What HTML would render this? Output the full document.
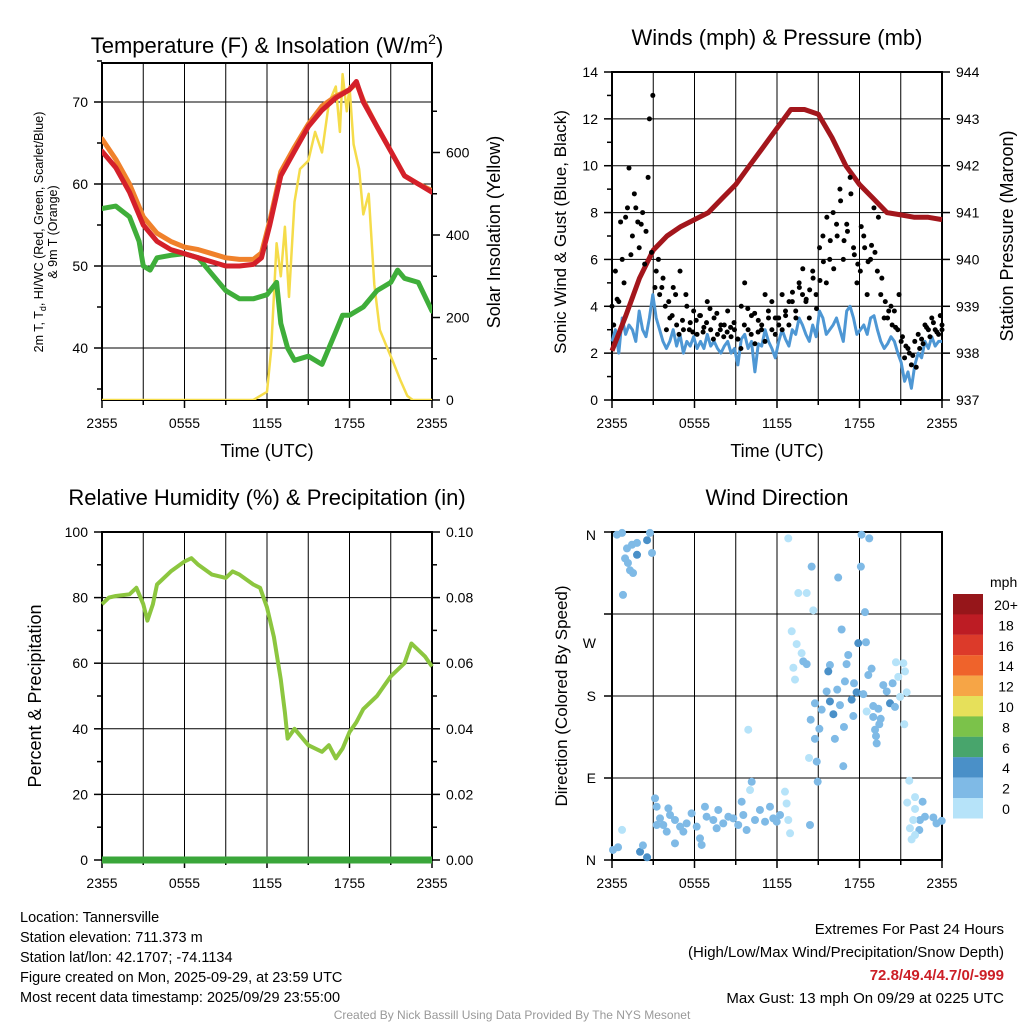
<!DOCTYPE html>
<html><head><meta charset="utf-8"><style>
html,body{margin:0;padding:0;background:#fff}
svg{display:block;font-family:"Liberation Sans",sans-serif}
</style></head><body>
<svg id="s" width="1024" height="1024" viewBox="0 0 1024 1024" xmlns="http://www.w3.org/2000/svg">
<rect width="1024" height="1024" fill="#fff"/>
<g id="g1"></g>
<g id="g2"></g>
<g id="g3"></g>
<g id="g4"></g>
<text x="267" y="53" font-size="22" text-anchor="middle">Temperature (F) &amp; Insolation (W/m<tspan font-size="14" dy="-9">2</tspan><tspan dy="9">)</tspan></text>
<text x="777" y="45" font-size="22" text-anchor="middle">Winds (mph) &amp; Pressure (mb)</text>
<text x="267" y="505" font-size="22" text-anchor="middle">Relative Humidity (%) &amp; Precipitation (in)</text>
<text x="777" y="505" font-size="22" text-anchor="middle">Wind Direction</text>
<text x="267" y="457" font-size="18" text-anchor="middle">Time (UTC)</text>
<text x="777" y="457" font-size="18" text-anchor="middle">Time (UTC)</text>
<g font-size="12.5" text-anchor="middle" transform="translate(43,232) rotate(-90)">
<text x="0" y="0">2m T, T<tspan font-size="9" dy="3">d</tspan><tspan dy="-3">, HI/WC (Red, Green, Scarlet/Blue)</tspan></text>
<text x="0" y="14">&amp; 9m T (Orange)</text></g>
<text transform="translate(500,232) rotate(-90)" font-size="18" text-anchor="middle">Solar Insolation (Yellow)</text>
<text transform="translate(566,232) rotate(-90)" font-size="17" text-anchor="middle">Sonic Wind &amp; Gust (Blue, Black)</text>
<text transform="translate(1013,236) rotate(-90)" font-size="18" text-anchor="middle">Station Pressure (Maroon)</text>
<text transform="translate(41,696) rotate(-90)" font-size="18" text-anchor="middle">Percent &amp; Precipitation</text>
<text transform="translate(567,696) rotate(-90)" font-size="17" text-anchor="middle">Direction (Colored By Speed)</text>
<g font-size="14.5">
<text x="20" y="922">Location: Tannersville</text>
<text x="20" y="942">Station elevation: 711.373 m</text>
<text x="20" y="962">Station lat/lon: 42.1707; -74.1134</text>
<text x="20" y="982">Figure created on Mon, 2025-09-29, at 23:59 UTC</text>
<text x="20" y="1002">Most recent data timestamp: 2025/09/29 23:55:00</text>
</g>
<g font-size="15" text-anchor="end">
<text x="1004" y="934">Extremes For Past 24 Hours</text>
<text x="1004" y="957">(High/Low/Max Wind/Precipitation/Snow Depth)</text>
<text x="1004" y="980" fill="#cc1f26" font-weight="bold">72.8/49.4/4.7/0/-999</text>
<text x="1004" y="1003">Max Gust: 13 mph On 09/29 at 0225 UTC</text>
</g>
<text x="512" y="1019" font-size="12" fill="#999" text-anchor="middle">Created By Nick Bassill Using Data Provided By The NYS Mesonet</text>
</svg>
<script>
// ---- Panel 1 data ----
const tempH=[0,1,2,3,4,5,6,7,8,9,10,11,11.6,12.2,12.6,13,14,15,16,17,18,18.5,19,20,21,22,23,24];
const tempRed=[64,62,59,55,53,52,51.5,51,50.5,50,50,50.2,51,55,58,61,64,67,69,70.5,71.5,72.5,70,67,64,61,60,59];
const temp9m=[65.5,63,60,56,54,53,52.3,52,51.5,51,50.8,50.8,51.6,55.5,58.5,61.5,64.5,67.3,69.5,70.7,71.5,72.3,70.2,67,64,61,60,59.2];
const dewH=[0,1,2,2.7,3,3.5,4,5,6,7,8,9,10,11,12,12.7,13,13.5,14,15,16,16.5,17,17.5,18,19,20,21,21.5,22,23,24];
const dewVal=[57,57.3,56,53,50,49.5,51,51.3,51.5,51,49,47,46,46,46.5,48,43,40,38.5,39,38,40,42,44,44,45,47,48,49.5,48.5,48,44.5];
const solH=[0,11,11.5,12,12.3,12.7,13,13.3,13.6,14,14.4,15,15.5,16,16.5,17,17.3,17.5,17.8,18,18.3,18.7,19,19.4,19.8,20.2,20.7,21.2,21.7,22.2,22.6,24];
const solVal=[0,0,10,20,120,380,300,420,250,480,560,580,650,600,720,760,650,790,700,760,620,560,450,500,280,170,130,90,48,10,0,0];
const tempTicks=[40,50,60,70];
const solTicks=[0,200,400,600];
const timeLabels=["2355","0555","1155","1755","2355"];
// ---- Panel 2 data ----
const presH=[0,1,2,3,4,5,6,7,8,9,10,11,12,13,14,15,16,17,18,19,20,21,22,23,24];
const presVal=[938.05,938.8,939.6,940.2,940.5,940.7,940.85,941.0,941.3,941.6,942.0,942.4,942.8,943.2,943.2,943.1,942.6,942.0,941.6,941.3,941.0,940.95,940.9,940.9,940.85];
const windVal=[2.5,3,2,3.5,2.8,3.2,3,2.5,3.8,3,2.7,3.5,4.5,3.5,3,2.5,
2.2,2.5,3,2.3,2.8,2,2.5,2.3,2.7,2.2,2.5,2.2,2.8,2.3,2.5,2.2,2,
2.3,2.5,2,2.2,1.5,2.6,2.8,2.2,2.5,1.2,2.4,2.3,3,2.5,2.2,1.8,
2.5,3,2.6,2.3,3,2.8,3.5,3.2,2.8,2.5,3.2,2.7,3.8,3.5,2.8,3,
3.2,3.5,3,2.5,3.8,4,3.5,2.8,3,3.2,2.8,3.5,3.6,3,2.5,2.2,
2.4,2.7,2.5,2,1.6,0.8,1.2,0.5,1.5,2,1.8,2.5,2.2,2.7,2.3,2.5,2.5];
const gustA=[4,5.5,4.2,6,7.8,9.9,7,8.2,6.5,8,7.2,12,13,5.5,4.5,5.2,
3,3.5,4.8,3.2,5.5,3,4,3.3,3.8,2.8,3.6,3.1,4.2,3,3.5,2.8,3.2,
3.2,3.8,2.7,3,2.6,4,5,3,3.6,2.4,3.4,3.2,4.5,3.5,3,2.8,
3.5,4.5,3.8,3.2,4.2,3.8,5,4.5,4.2,3.5,5.5,4.5,6.5,7,5,6,
8,7.5,9,6,7.5,9.5,6.5,5,5.5,7,4.5,6,8.2,5.5,4.5,3.5,
3.5,4,3.8,3,2.5,1.8,2.2,1.5,2.5,2.8,2.6,3.2,3,3.5,3,2.8,3];
const gustB=[3.2,4.3,7.6,5,8.2,6.2,8.8,7.6,7.5,5.8,9.5,6.3,4.8,6,4.8,4,
4.2,3.6,4.5,2.8,3.4,4.5,3,2.9,3.4,3.6,2.9,3.3,3.9,2.6,3.7,3,2.7,
2.9,3.1,3.3,2.6,2.2,3.2,3.9,2.8,3.7,2.9,3,2.5,3.8,4.2,3.5,3.2,
3,3.6,4.2,4.6,3.5,4.8,5.6,4.3,4.7,5.2,3.9,5.1,5.9,7.8,6.8,5.6,
7,8.5,6.8,7.2,8.8,6.2,5.8,7.4,6.5,5.9,6.6,6.3,7.8,5.2,4.2,3.8,
3.2,3.1,4.5,2.7,2.3,2.0,1.9,1.4,2.2,2.4,3.1,2.7,3.3,2.9,3.6,3.2];
const windTicks=[0,2,4,6,8,10,12,14];
const presTicks=[937,938,939,940,941,942,943,944];
// ---- Panel 3 data ----
const rhH=[0,0.5,1,2,2.5,3,3.3,3.7,4,5,6,6.5,7,8,9,9.5,10,11,11.5,12,12.5,13,13.3,13.5,14,15,16,16.5,17,17.5,18,18.5,19,20,21,22,22.5,23,23.5,24];
const rhVal=[78,80,80.5,81,83,78,73,78,84,88,91,92,90,87,86,88,87,84,83,77,68,55,45,37,40,35,33,35,31,34,39,42,46,50,56,60,66,64,62,59];
const rhTicks=[0,20,40,60,80,100];
const precTicks=["0.00","0.02","0.04","0.06","0.08","0.10"];
// ---- Panel 4 data ----
const dirH=[0.36,0.73,1.09,1.45,1.82,2.55,2.76,2.91,0.95,1.16,1.31,1.53,0.80,1.82,0.07,0.44,2.04,2.25,2.55,0.73,
3.13,3.25,3.49,3.73,4.10,4.22,4.58,4.95,5.43,5.79,6.16,6.40,6.76,6.88,7.37,7.73,8.09,8.46,8.82,9.18,9.43,9.55,10.04,10.16,10.40,10.76,11.13,11.49,11.73,12.22,12.58,12.70,12.82,12.95,3.25,3.98,4.58,5.19,6.52,7.61,9.79,11.98,14.4,
12.82,14.52,16.45,18.15,18.71,18.1,13.55,14.16,14.64,18.4,16.7,13.07,13.43,13.79,13.19,13.91,14.16,13.31,15.85,15.73,17.18,17.06,17.91,18.47,18.88,18.64,16.94,17.6,16.38,15.61,17.79,17.43,18.28,14.76,15.25,15.85,16.1,16.58,17.55,18.52,19.0,19.37,19.73,19.98,20.22,20.41,20.58,20.65,20.82,21.19,21.31,21.43,20.95,14.45,15.08,14.76,16.21,16.87,19.0,19.54,19.44,19.13,19.2,19.25,21.26,9.91,14.33,14.89,16.82,14.96,
21.62,22.04,21.47,22.59,22.04,22.76,23.37,23.98,23.6,22.4,21.91,21.67,22.35,22.04,21.79];
const dirDeg=[357,359,342,346,348,351,359,337,331,326,318,315,291,335,11,14,9,16,3,33,
67.7,58.5,45.7,38.4,56.7,49.4,43.9,36.6,40.2,51.2,36.6,23.8,58.5,47.5,43.9,54.9,40.2,47.5,45.7,38.4,64,49.4,76.8,85.9,43.9,54.9,42,58.5,45.7,49.4,75,62,43.9,29.3,38.4,31.1,18.3,31.1,16.5,34.8,32.9,42,38.4,
353,322,310,357,353,322,293,293,274,272,253,251,237,227,211,218,215,198,214,207,225,215,238,239,210,203,196,194,187,185,184,176,182,172,165,174,160,170,158,163,169,166,192,185,172,194,168,217,201,216,207,184,179,154,144,133,133,146,157,155,149,143,136,128,149,143,112,108,103,86,
87,69,63,64,56,47.5,46.7,43,40.2,43.9,43.9,34.8,32.9,27.4,22.6];
const dirSpd=[2.5,2.5,2.5,2.5,2.5,4.5,2.5,2.5,2.5,2.5,2.5,2.5,2.5,4.5,2.5,2.5,4.5,2.5,4.5,0.5,
2.5,2.5,2.5,2.5,2.5,2.5,2.5,2.5,2.5,2.5,2.5,2.5,2.5,2.5,2.5,2.5,2.5,2.5,2.5,2.5,2.5,2.5,0.5,2.5,2.5,2.5,2.5,2.5,2.5,2.5,0.5,0.5,0.5,0.5,2.5,2.5,2.5,2.5,2.5,2.5,2.5,2.5,2.5,
0.5,2.5,2.5,2.5,2.5,2.5,0.5,0.5,0.5,2.5,2.5,0.5,0.5,0.5,0.5,2.5,2.5,0.5,2.5,4.5,2.5,2.5,4.5,2.5,2.5,2.5,2.5,2.5,2.5,2.5,4.5,4.5,2.5,2.5,2.5,4.5,4.5,2.5,2.5,0.5,2.5,2.5,2.5,2.5,4.5,2.5,2.5,0.5,0.5,0.5,0.5,0.5,0.5,2.5,2.5,2.5,2.5,2.5,2.5,2.5,2.5,2.5,2.5,2.5,0.5,0.5,0.5,2.5,2.5,2.5,
0.5,0.5,0.5,2.5,0.5,2.5,2.5,2.5,2.5,2.5,0.5,0.5,2.5,0.5,0.5];
const dirLabels=["N","W","S","E","N"];
const cbLabels=["20+","18","16","14","12","10","8","6","4","2","0"];
const cbColors=["#96161a","#bd1c24","#dc3a2a","#ef632b","#f6a546","#e6e05a","#7bc24a","#48a56c","#4a90c8","#7fbae6","#b6e3f9"];

const NS="http://www.w3.org/2000/svg";
function mk(parent,tag,attrs){const e=document.createElementNS(NS,tag);for(const k in attrs)e.setAttribute(k,attrs[k]);parent.appendChild(e);return e;}
function panelFrame(g,x0,x1,y0,y1){
  for(let i=1;i<8;i++){const x=x0+(x1-x0)*i/8;const l=mk(g,'line',{x1:x,x2:x,y1:y0,y2:y1,stroke:'#000','stroke-width':1});
    }
  const r=mk(g,'rect',{x:x0,y:y0,width:x1-x0,height:y1-y0,fill:'none',stroke:'#000','stroke-width':2});
  
  for(let i=0;i<=8;i++){const x=x0+(x1-x0)*i/8;const len=i%2==0?8:5;
    const t=mk(g,'line',{x1:x,x2:x,y1:y1,y2:y1+len,stroke:'#000','stroke-width':1.5});}
  timeLabels.forEach((s,i)=>{const t=mk(g,'text',{x:x0+(x1-x0)*i/4,y:y1+28,'font-size':14,'text-anchor':'middle'});t.textContent=s;
    });
}
function hline(g,x0,x1,y,side){const l=mk(g,'line',{x1:x0,x2:x1,y1:y,y2:y,stroke:'#000','stroke-width':1});}
function ytick(g,x,y,len,label,anchor,lx){const t=mk(g,'line',{x1:x,x2:x+len,y1:y,y2:y,stroke:'#000','stroke-width':1.5});
  if(label!==null){const tx=mk(g,'text',{x:lx,y:y+5,'font-size':14,'text-anchor':anchor});tx.textContent=label;}}
function pathFrom(hs,vs,X,Y){return hs.map((h,i)=>(i?'L':'M')+X(h).toFixed(1)+','+Y(vs[i]).toFixed(1)).join('');}

// Panel 1
(function(){const g=document.getElementById('g1');const x0=102,x1=432,y0=63,y1=400;
  const X=h=>x0+h/24*(x1-x0);const Y=t=>348-(t-40)*8.2;const YS=s=>400-s*0.4125;
  const clip=mk(g,'clipPath',{id:'c1'});mk(clip,'rect',{x:x0,y:y0,width:x1-x0,height:y1-y0});
  tempTicks.forEach(t=>{hline(g,x0,x1,Y(t));ytick(g,x0-8,Y(t),8,String(t),'end',x0-14);ytick(g,x0-5,Y(t+5),5,null);});
  ytick(g,x0-5,Y(35),5,null);
  solTicks.forEach(s=>{ytick(g,x1,YS(s),8,String(s),'start',x1+14);ytick(g,x1,YS(s+100),5,null);});
  panelFrame(g,x0,x1,y0,y1);
  const cg=mk(g,'g',{'clip-path':'url(#c1)'});
  const series=[[solH,solVal,YS,'#f5dc4a',2.5,'solar-line'],[dewH,dewVal,Y,'#3fae3a',5,'dewpoint-line'],[tempH,temp9m,Y,'#f0812b',5,'temp-9m-line'],[tempH,tempRed,Y,'#d4202a',5,'temp-2m-line']];
  series.forEach(s=>{const p=mk(cg,'path',{d:pathFrom(s[0],s[1],X,s[2]),fill:'none',stroke:s[3],'stroke-width':s[4],'stroke-linejoin':'round','stroke-linecap':'round'});
    });
})();
// Panel 2
(function(){const g=document.getElementById('g2');const x0=612,x1=942,y0=72,y1=400;
  const X=h=>x0+h/24*(x1-x0);const Y=w=>y1-w/14*(y1-y0);const YP=p=>y1-(p-937)/7*(y1-y0);
  windTicks.forEach(w=>{hline(g,x0,x1,Y(w));ytick(g,x0-8,Y(w),8,String(w),'end',x0-14);if(w<14)ytick(g,x0-5,Y(w+1),5,null);});
  presTicks.forEach(p=>{ytick(g,x1,YP(p),8,String(p),'start',x1+14);});
  panelFrame(g,x0,x1,y0,y1);
  const n=windVal.length;const wh=windVal.map((v,i)=>i*24/(n-1));
  let p=mk(g,'path',{d:pathFrom(wh,windVal,X,Y),fill:'none',stroke:'#4e97d4','stroke-width':3,'stroke-linejoin':'round'});
  p=mk(g,'path',{d:pathFrom(presH,presVal,X,YP),fill:'none',stroke:'#a3161c','stroke-width':5,'stroke-linejoin':'round'});
  [[gustA,0],[gustB,0.125]].forEach(a=>{const m=a[0].length;a[0].forEach((v,i)=>{const h=Math.min(24,i*24/(m-1)+a[1]);
    const c=mk(g,'circle',{cx:X(h),cy:Y(v),r:2.5,fill:'#000'});});});
})();
// Panel 3
(function(){const g=document.getElementById('g3');const x0=102,x1=432,y0=532,y1=860;
  const X=h=>x0+h/24*(x1-x0);const Y=v=>y1-v/100*(y1-y0);
  rhTicks.forEach((v,i)=>{hline(g,x0,x1,Y(v));ytick(g,x0-8,Y(v),8,String(v),'end',x0-14);if(v<100)ytick(g,x0-5,Y(v+10),5,null);
    ytick(g,x1,Y(v),8,precTicks[i],'start',x1+14);if(v<100)ytick(g,x1,Y(v+10),5,null);});
  panelFrame(g,x0,x1,y0,y1);
  let p=mk(g,'path',{d:pathFrom(rhH,rhVal,X,Y),fill:'none',stroke:'#8cc63f','stroke-width':4,'stroke-linejoin':'round'});
  p=mk(g,'line',{x1:x0,x2:x1,y1:Y(0),y2:Y(0),stroke:'#3aa63a','stroke-width':7});
})();
// Panel 4
(function(){const g=document.getElementById('g4');const x0=612,x1=942,y0=532,y1=860;
  const X=h=>x0+h/24*(x1-x0);const Y=d=>y1-d/360*(y1-y0);
  [0,90,180,270,360].forEach(d=>{hline(g,x0,x1,Y(d));ytick(g,x0-8,Y(d),8,null);});
  const labY=[535,643,696,778,860];
  dirLabels.forEach((s,i)=>{const t=mk(g,'text',{x:x0-16,y:labY[i]+5,'font-size':14,'text-anchor':'end'});t.textContent=s;});
  panelFrame(g,x0,x1,y0,y1);
  dirH.forEach((h,i)=>{const b=Math.min(10,Math.floor(dirSpd[i]/2));
    const c=mk(g,'circle',{cx:X(h),cy:Y(dirDeg[i]),r:4,fill:cbColors[10-b]});});
  const lt=mk(g,'text',{x:990,y:587,'font-size':14});lt.textContent='mph';
  cbColors.forEach((c,i)=>{const r=mk(g,'rect',{x:953,y:594+i*20.4,width:30,height:20.5,fill:c});
    const t=mk(g,'text',{x:1006,y:610+i*20.4,'font-size':14,'text-anchor':'middle'});t.textContent=cbLabels[i];});
})();
</script>
</body></html>
